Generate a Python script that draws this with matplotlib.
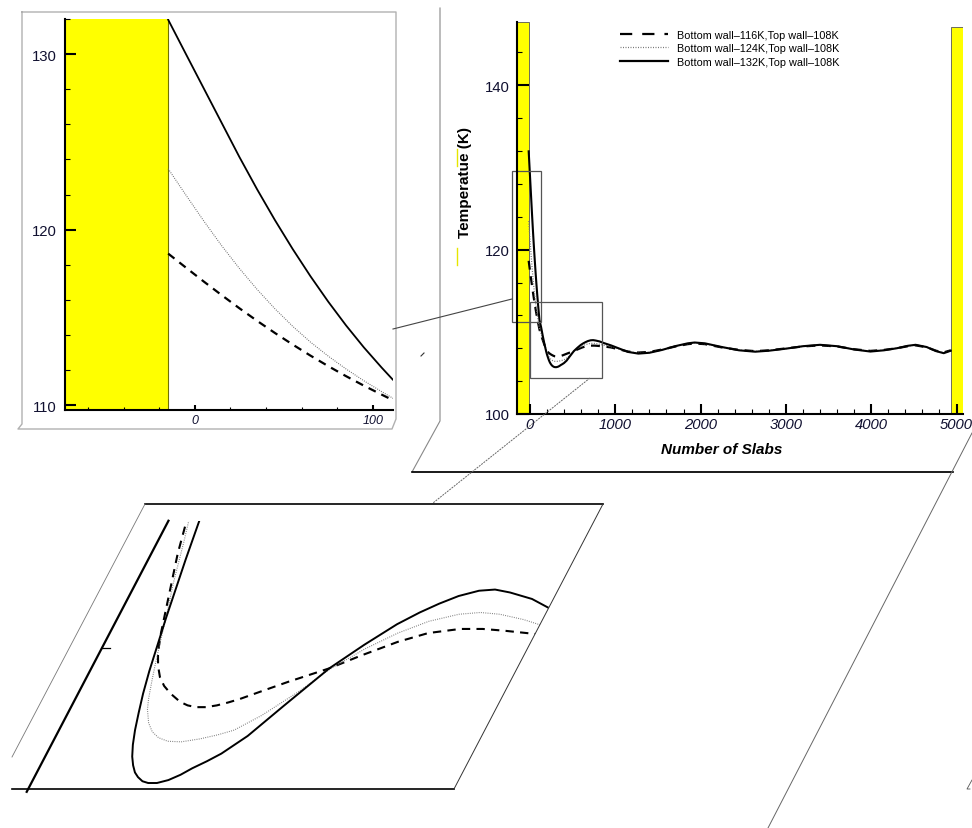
import numpy as np
import matplotlib
matplotlib.use("Agg")
import matplotlib.pyplot as plt
from matplotlib.patches import Rectangle, Polygon
from matplotlib.lines import Line2D
from matplotlib.transforms import Affine2D
from matplotlib.ticker import MultipleLocator

plt.rcParams['font.family'] = ['Liberation Sans', 'DejaVu Sans']

W, H = 972, 829

# ---- data (slab number, temperature K) ----
slab_tail = [950, 1050, 1150, 1270, 1400, 1550, 1700, 1850, 1930, 2050,
             2250, 2450, 2640, 2800, 3000, 3200, 3400, 3600, 3800, 3990,
             4150, 4300, 4430, 4520, 4650, 4760, 4850, 4932]

slab_116 = [-15, -5, 5, 15, 25, 35, 45, 55, 65, 75, 85, 95, 105, 111.4, 130, 150,
            165, 175, 188, 201, 215, 231, 250, 275, 292, 309, 327, 345, 363, 381,
            415, 452, 514, 560, 613, 660, 714, 755, 796, 860] + slab_tail
temp_116 = [118.64, 117.84, 117.05, 116.28, 115.53, 114.81, 114.12, 113.46, 112.83, 112.23,
            111.66, 111.12, 110.61, 110.29, 109.6, 109.0, 108.55, 108.25, 107.92, 107.69,
            107.5, 107.35, 107.22, 107.08, 107.02, 106.99, 106.99, 107.02, 107.07, 107.13,
            107.27, 107.42, 107.65, 107.87, 108.1, 108.25, 108.32, 108.32, 108.29, 108.23,
            108.1, 107.85, 107.6, 107.48, 107.55, 107.85, 108.2, 108.5, 108.58, 108.5,
            108.1, 107.8, 107.65, 107.75, 107.98, 108.22, 108.35, 108.22, 107.88, 107.68,
            107.8, 108.0, 108.25, 108.35, 108.12, 107.7, 107.5, 107.75]

slab_124 = [-15, -5, 5, 15, 25, 35, 45, 55, 65, 75, 85, 95, 105, 111.4, 130, 150,
            170, 180, 190, 200, 207, 215, 223, 238, 253, 270, 290, 315, 346, 375,
            400, 436, 480, 514, 560, 605, 650, 698, 735, 772, 820, 863] + slab_tail
temp_124 = [123.47, 121.97, 120.5, 119.1, 117.8, 116.6, 115.5, 114.5, 113.6, 112.8,
            112.07, 111.4, 110.78, 110.4, 109.8, 109.1, 108.5, 108.17, 107.85, 107.55,
            107.35, 107.13, 106.95, 106.72, 106.57, 106.47, 106.41, 106.4, 106.45, 106.52,
            106.6, 106.85, 107.25, 107.62, 107.98, 108.25, 108.45, 108.57, 108.6, 108.57,
            108.48, 108.37,
            108.2, 107.9, 107.58, 107.42, 107.5, 107.82, 108.22, 108.55, 108.64, 108.55,
            108.12, 107.78, 107.62, 107.72, 107.96, 108.24, 108.38, 108.24, 107.86, 107.64,
            107.78, 108.0, 108.28, 108.38, 108.14, 107.68, 107.45, 107.72]

slab_132 = [-15, -5, 5, 15, 25, 35, 45, 55, 65, 75, 85, 95, 105, 111.4, 130, 140,
            150, 160, 170, 180, 190, 200, 210, 220, 230, 240, 250, 260, 270, 282,
            294, 310, 328, 345, 360, 380, 399, 430, 466, 514, 555, 595, 625, 652,
            680, 712, 740, 770, 816, 867] + slab_tail
temp_132 = [131.96, 130.0, 128.05, 126.1, 124.15, 122.3, 120.55, 118.9, 117.35, 115.9,
            114.55, 113.3, 112.15, 111.45, 110.6, 110.05, 109.5, 109.0, 108.5, 108.05,
            107.6, 107.22, 106.9, 106.6, 106.35, 106.15, 106.0, 105.88, 105.8, 105.73,
            105.7, 105.7, 105.75, 105.84, 105.95, 106.07, 106.2, 106.5, 107.0, 107.65,
            108.05, 108.4, 108.6, 108.75, 108.88, 108.97, 108.99, 108.94, 108.83, 108.63,
            108.35, 107.95, 107.55, 107.35, 107.45, 107.8, 108.25, 108.6, 108.7, 108.6,
            108.15, 107.75, 107.58, 107.7, 107.95, 108.25, 108.42, 108.25, 107.85, 107.6,
            107.75, 108.0, 108.3, 108.42, 108.15, 107.65, 107.4, 107.7]

series_labels = ['Bottom wall\u2013116K,Top wall\u2013108K',
                 'Bottom wall\u2013124K,Top wall\u2013108K',
                 'Bottom wall\u2013132K,Top wall\u2013108K']

main_xticks = [0, 1000, 2000, 3000, 4000, 5000]
main_yticks = [100, 120, 140]
zoom_xticks = [0, 100]
zoom_yticks = [110, 120, 130]

YELLOW = '#ffff00'
styles = [dict(color='black', lw=1.6, dashes=(4, 3)),
          dict(color='#777777', lw=0.9, dashes=(0.8, 1.2)),
          dict(color='black', lw=1.5, linestyle='-')]
series = [(slab_116, temp_116), (slab_124, temp_124), (slab_132, temp_132)]


def fx(px):
    return px / W


def fy(py):
    return 1 - py / H


fig = plt.figure(figsize=(W / 100, H / 100), dpi=100)


def seg(xs, ys, **kw):
    fig.add_artist(Line2D([fx(x) for x in xs], [fy(y) for y in ys],
                          transform=fig.transFigure, **kw))


def ax_px(left, top, right, bottom):
    return fig.add_axes([fx(left), fy(bottom), (right - left) / W, (bottom - top) / H])


# ---- decorations (frames, connectors) ----
seg([440, 440, 412, 953], [9, 422, 473, 473], color='#888888', lw=0.8)
seg([412, 953], [473, 473], color='black', lw=1.2)
seg([972, 768], [434, 829], color='#666666', lw=0.7)
seg([22, 396, 396, 392, 18, 22, 22], [13, 13, 420, 430, 430, 425, 13], color='#b0b0b0', lw=1.0)
seg([393, 512], [330, 300], color='#444444', lw=0.8)
seg([590, 433], [379, 504], color='#666666', lw=0.7, dashes=(2, 1))
seg([145, 603], [505, 505], color='black', lw=1.2)
seg([12, 454], [790, 790], color='black', lw=1.2)
seg([454, 603], [790, 505], color='#333333', lw=0.7)
seg([145, 12], [505, 758], color='#777777', lw=0.6)
seg([457, 457], [150, 167], color='#e6e600', lw=1)
seg([457, 457], [249, 266], color='#e6e600', lw=1)
seg([421, 424], [357, 354], color='#333333', lw=0.8)
seg([972, 967, 970], [781, 790, 790], color='#555555', lw=0.6)

# ---- main chart ----
ax = ax_px(517, 23, 963, 415)
ax.set_xlim(-152, 5076)
ax.set_ylim(100, 147.7)
ax.add_patch(Rectangle((-152, 100), 137, 47.7, facecolor=YELLOW, edgecolor='#555555', lw=0.6, zorder=1))
ax.add_patch(Rectangle((4935, 100), 141, 47.1, facecolor=YELLOW, edgecolor='#555555', lw=0.6, zorder=1))
for (xs, ts), st in zip(series, styles):
    ax.plot(xs, ts, zorder=3, **st)
ax.add_patch(Rectangle((-212, 111.19), 341, 18.37, fill=False, edgecolor='#555555', lw=0.9, clip_on=False, zorder=4))
ax.add_patch(Rectangle((0, 104.38), 847, 9.25, fill=False, edgecolor='#555555', lw=0.9, clip_on=False, zorder=4))

for s in ['top', 'right']:
    ax.spines[s].set_visible(False)
for s in ['left', 'bottom']:
    ax.spines[s].set_linewidth(1.5)
    ax.spines[s].set_zorder(5)
ax.set_xticks(main_xticks, [str(t) for t in main_xticks], fontstyle='italic', fontsize=10.7, color='#101030')
ax.set_yticks(main_yticks, [str(t) for t in main_yticks], fontsize=10.7, color='#101030')
ax.xaxis.set_minor_locator(MultipleLocator(200))
ax.yaxis.set_minor_locator(MultipleLocator(4))
ax.tick_params(which='major', direction='in', width=1.5)
ax.tick_params(axis='x', which='major', length=7, pad=2.5)
ax.tick_params(axis='y', which='major', length=8.5, pad=5)
ax.tick_params(which='minor', direction='in', width=0.8, length=3.8)
ax.set_xlabel('Number of Slabs', fontsize=11, fontweight='bold', fontstyle='italic')
ax.xaxis.set_label_coords((722 - 517) / 446, (415 - 443) / 392)
ax.set_ylabel('Temperatue (K)', fontsize=11, fontweight='bold')
ax.yaxis.set_label_coords((472 - 517) / 446, (415 - 182) / 392)

handles = [Line2D([], [], color='black', lw=1.6, dashes=(5.5, 4.5)),
           Line2D([], [], color='#777777', lw=0.9, dashes=(0.8, 1.2)),
           Line2D([], [], color='black', lw=1.6)]
ax.legend(handles, series_labels, loc='upper left', bbox_to_anchor=(fx(620), fy(31)),
          bbox_transform=fig.transFigure, frameon=False, fontsize=7.8, borderpad=0,
          borderaxespad=0, handlelength=4.43, handletextpad=0.83, labelspacing=0.3)

# ---- top-left magnified view ----
ax1 = ax_px(65, 20, 393, 410.7)
ax1.set_xlim(-73, 111.4)
ax1.set_ylim(109.75, 132)
ax1.add_patch(Rectangle((-73, 109.75), 57.8, 22.25, facecolor=YELLOW, edgecolor='none', zorder=1))
ax1.axvline(-15.2, color='#707000', lw=0.8, zorder=1.5)
z1_styles = [dict(color='black', lw=1.6, dashes=(3.6, 2.8)),
             dict(color='#666666', lw=0.8, dashes=(0.8, 1.2)),
             dict(color='black', lw=1.3, linestyle='-')]
for (xs, ts), st in zip(series, z1_styles):
    ax1.plot(xs, ts, zorder=3, **st)
for s in ['top', 'right']:
    ax1.spines[s].set_visible(False)
for s in ['left', 'bottom']:
    ax1.spines[s].set_linewidth(1.5)
    ax1.spines[s].set_zorder(5)
ax1.set_xticks(zoom_xticks, [str(t) for t in zoom_xticks], fontstyle='italic', fontsize=9, color='#101030')
ax1.set_yticks(zoom_yticks, [str(t) for t in zoom_yticks], fontsize=10.7, color='#101030')
ax1.xaxis.set_minor_locator(MultipleLocator(20))
ax1.yaxis.set_minor_locator(MultipleLocator(2))
ax1.tick_params(which='major', direction='in', width=1.5)
ax1.tick_params(axis='x', which='major', length=3.5, pad=3)
ax1.tick_params(axis='y', which='major', length=8, pad=6)
ax1.tick_params(which='minor', direction='in', width=0.8, length=3.5)
ax1.tick_params(axis='x', which='minor', length=2.5)

# ---- bottom sheared magnified view ----
axz = ax_px(-4, 505, 454, 790)
axz.set_autoscale_on(False)
axz.set_xlim(23.6, 854.8)
axz.set_ylim(105.598, 110.445)
axz.axis('off')
shear = Affine2D().translate(0, -(H - 790)).skew(np.arctan(0.523), 0).translate(0, H - 790)
trans = axz.transData + shear
clip_poly = Polygon([(fx(136), fy(522)), (fx(594), fy(522)), (fx(454), fy(790)), (fx(-4), fy(790))],
                    closed=True, transform=fig.transFigure)
zz_styles = [dict(color='black', lw=1.5, dashes=(4, 3)),
             dict(color='#777777', lw=0.8, dashes=(0.8, 1.2)),
             dict(color='black', lw=1.4, linestyle='-')]
for (xs, ts), st in zip(series, zz_styles):
    ln, = axz.plot(xs, ts, transform=trans, **st)
    ln.set_clip_path(clip_poly)
    ln.set_clip_box(None)
axz.plot([82, 82], [105.55, 110.16], transform=trans, color='black', lw=1.6, clip_on=False)
axz.plot([82, 96], [108, 108], transform=trans, color='black', lw=0.9, clip_on=False)

fig.savefig('out.png', dpi=100)
